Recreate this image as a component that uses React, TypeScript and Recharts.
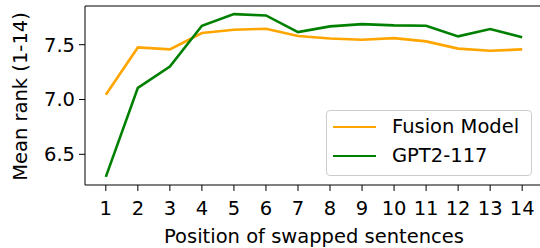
import { Label, Legend, Line, LineChart, ReferenceLine, XAxis, YAxis } from "recharts";

const positions = [1, 2, 3, 4, 5, 6, 7, 8, 9, 10, 11, 12, 13, 14];
const fusionModel = [7.043, 7.475, 7.457, 7.606, 7.636, 7.645, 7.58, 7.557, 7.545, 7.56, 7.53, 7.464, 7.445, 7.457];
const gpt2 = [6.294, 7.106, 7.3, 7.673, 7.779, 7.767, 7.615, 7.667, 7.688, 7.676, 7.673, 7.576, 7.643, 7.567];
const yTicks = [6.5, 7.0, 7.5];

const SERIES = [
  { key: "fusion", name: "Fusion Model", color: "#ffa500" },
  { key: "gpt2", name: "GPT2-117", color: "#008000" },
];

const FONT = "'DejaVu Sans', sans-serif";
const Y_MAX = 7.853;

const data = positions.map((pos, i) => ({ pos, fusion: fusionModel[i], gpt2: gpt2[i] }));

function LegendBox() {
  return (
    <div
      style={{
        width: 206,
        height: 66,
        boxSizing: "border-box",
        border: "1px solid #cccccc",
        borderRadius: 4,
        background: "rgba(255,255,255,0.8)",
        fontFamily: FONT,
        fontSize: 19.5,
        color: "#000",
        position: "relative",
      }}
    >
      {SERIES.map((s, i) => (
        <div
          key={s.key}
          style={{ position: "absolute", left: 0, top: 4 + i * 29, height: 24, display: "flex", alignItems: "center" }}
        >
          <div style={{ marginLeft: 6, width: 43, height: 2.6, background: s.color }} />
          <span style={{ marginLeft: 16, lineHeight: "24px", whiteSpace: "nowrap" }}>{s.name}</span>
        </div>
      ))}
    </div>
  );
}

function YTitle() {
  return (
    <text
      x={27}
      y={96.5}
      transform="rotate(-90, 27, 96.5)"
      textAnchor="middle"
      fontFamily={FONT}
      fontSize={19.5}
      fill="#000"
    >
      Mean rank (1-14)
    </text>
  );
}

export default function App() {
  const tickStyle = { fontSize: 19.5, fontFamily: FONT, fill: "#000" };
  return (
    <div style={{ position: "absolute", left: 0, top: 0, width: 540, height: 248, overflow: "hidden", background: "#fff" }}>
      <LineChart width={548} height={248} data={data} margin={{ top: 6, right: 5, bottom: 0, left: 0 }}>
        <XAxis
          dataKey="pos"
          type="number"
          domain={[0.35, 14.65]}
          ticks={positions}
          interval={0}
          allowDataOverflow
          height={63}
          stroke="#000"
          tickSize={6}
          tickMargin={10}
          tick={tickStyle}
        >
          <Label
            value="Position of swapped sentences"
            position="insideBottom"
            offset={5.5}
            style={{ fontSize: 19.5, fontFamily: FONT, fill: "#000" }}
          />
        </XAxis>
        <YAxis
          type="number"
          domain={[6.22, Y_MAX]}
          ticks={yTicks}
          allowDataOverflow
          width={85}
          stroke="#000"
          tickSize={6}
          tickMargin={4}
          tick={tickStyle}
          tickFormatter={(v: number) => v.toFixed(1)}
          label={<YTitle />}
        />
        <ReferenceLine y={Y_MAX} stroke="#000" strokeWidth={1.2} ifOverflow="visible" />
        <Legend
          layout="vertical"
          align="center"
          verticalAlign="middle"
          wrapperStyle={{ left: 326, top: 110, width: 206, height: 66 }}
          content={() => <LegendBox />}
        />
        {SERIES.map((s) => (
          <Line
            key={s.key}
            dataKey={s.key}
            name={s.name}
            type="linear"
            stroke={s.color}
            strokeWidth={2.6}
            dot={false}
            activeDot={false}
            isAnimationActive={false}
          />
        ))}
      </LineChart>
    </div>
  );
}
